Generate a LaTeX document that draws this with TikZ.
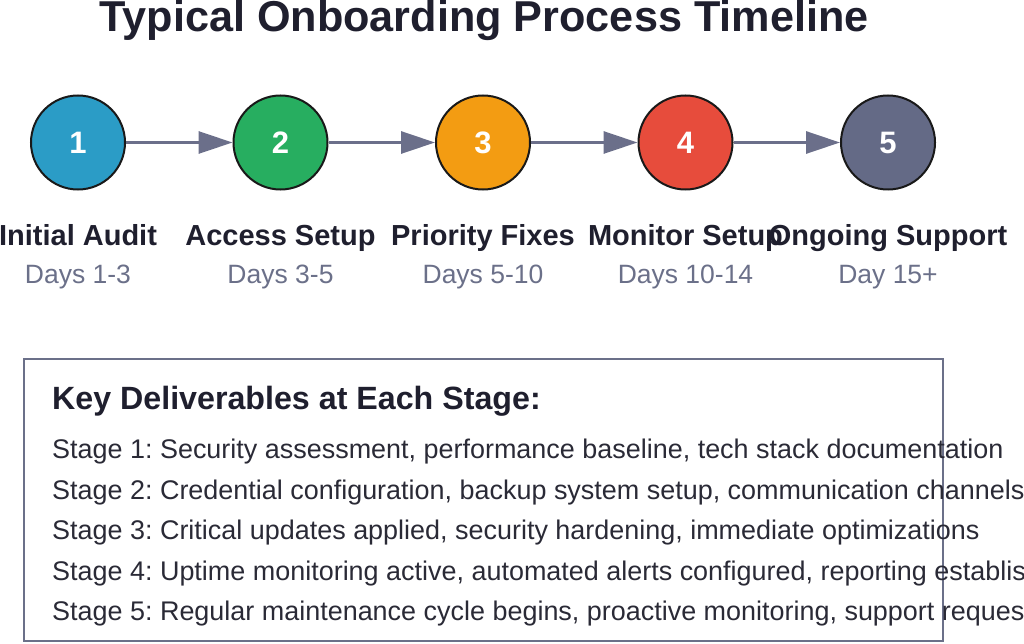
\documentclass[tikz,border=0pt]{standalone}
\usepackage{fontspec}
\setmainfont{Liberation Sans}
\usetikzlibrary{arrows.meta}
\frenchspacing
\definecolor{cblue}{HTML}{2B9CC6}
\definecolor{cgreen}{HTML}{27AE60}
\definecolor{corange}{HTML}{F39C12}
\definecolor{cred}{HTML}{E74C3C}
\definecolor{cslate}{HTML}{646A86}
\definecolor{cline}{HTML}{6B6F8A}
\definecolor{cdark}{HTML}{1F1F2E}
\definecolor{ctext}{HTML}{2A2A36}
\definecolor{cgray}{HTML}{6B7089}
\begin{document}
\begin{tikzpicture}[x=1pt,y=-1pt,
  stagecircle/.style={circle,draw=black!90,line width=2pt,minimum size=94pt,inner sep=0pt,text=white,font=\fontsize{31}{36}\selectfont\bfseries},
  flow/.style={draw=cline,line width=3pt,-{Triangle[length=34pt,width=22pt]}},
  stagelabel/.style={anchor=base,text=cdark,font=\fontsize{29}{34}\selectfont\bfseries,inner sep=0pt},
  daylabel/.style={anchor=base,text=cgray,font=\fontsize{26.5}{32}\selectfont,inner sep=0pt},
  itemtext/.style={anchor=base west,text=ctext,font=\fontsize{26.95}{32}\selectfont,inner sep=0pt}]
\useasboundingbox (0,0) rectangle (1024,644);
\node[anchor=base,text=cdark,font=\fontsize{43.2}{50}\selectfont\bfseries,inner sep=0pt] (title) at (484,32) {Typical Onboarding Process Timeline};

\node[stagecircle,fill=cblue] (c1) at (78,142.5) {1};
\node[stagecircle,fill=cgreen] (c2) at (280.5,142.5) {2};
\node[stagecircle,fill=corange] (c3) at (483,142.5) {3};
\node[stagecircle,fill=cred] (c4) at (685.5,142.5) {4};
\node[stagecircle,fill=cslate] (c5) at (888,142.5) {5};

\draw[flow] (c1) -- (c2);
\draw[flow] (c2) -- (c3);
\draw[flow] (c3) -- (c4);
\draw[flow] (c4) -- (c5);

\node[stagelabel] (l1) at (78,245) {Initial Audit};
\node[stagelabel] (l2) at (280.5,245) {Access Setup};
\node[stagelabel] (l3) at (483,245) {Priority Fixes};
\node[stagelabel] (l4) at (685.5,245) {Monitor Setup};
\node[stagelabel] (l5) at (888,245) {Ongoing Support};

\node[daylabel] (d1) at (78,283) {Days 1-3};
\node[daylabel] (d2) at (280.5,283) {Days 3-5};
\node[daylabel] (d3) at (483,283) {Days 5-10};
\node[daylabel] (d4) at (685.5,283) {Days 10-14};
\node[daylabel] (d5) at (888,283) {Day 15+};

\node[draw=cgray,line width=2pt,rectangle,minimum width=919pt,minimum height=282pt,inner sep=0pt] (box) at (483.5,500) {};

\node[anchor=base west,text=cdark,font=\fontsize{32.2}{38}\selectfont\bfseries,inner sep=0pt] (head) at (52,409) {Key Deliverables at Each Stage:};
\node[itemtext] (s1) at (52,458) {Stage 1: Security assessment, performance baseline, tech stack documentation};
\node[itemtext] (s2) at (52,499) {Stage 2: Credential configuration, backup system setup, communication channels};
\node[itemtext] (s3) at (52,539) {Stage 3: Critical updates applied, security hardening, immediate optimizations};
\node[itemtext] (s4) at (52,580) {Stage 4: Uptime monitoring active, automated alerts configured, reporting established};
\node[itemtext] (s5) at (52,620) {Stage 5: Regular maintenance cycle begins, proactive monitoring, support requests};
\end{tikzpicture}
\end{document}
